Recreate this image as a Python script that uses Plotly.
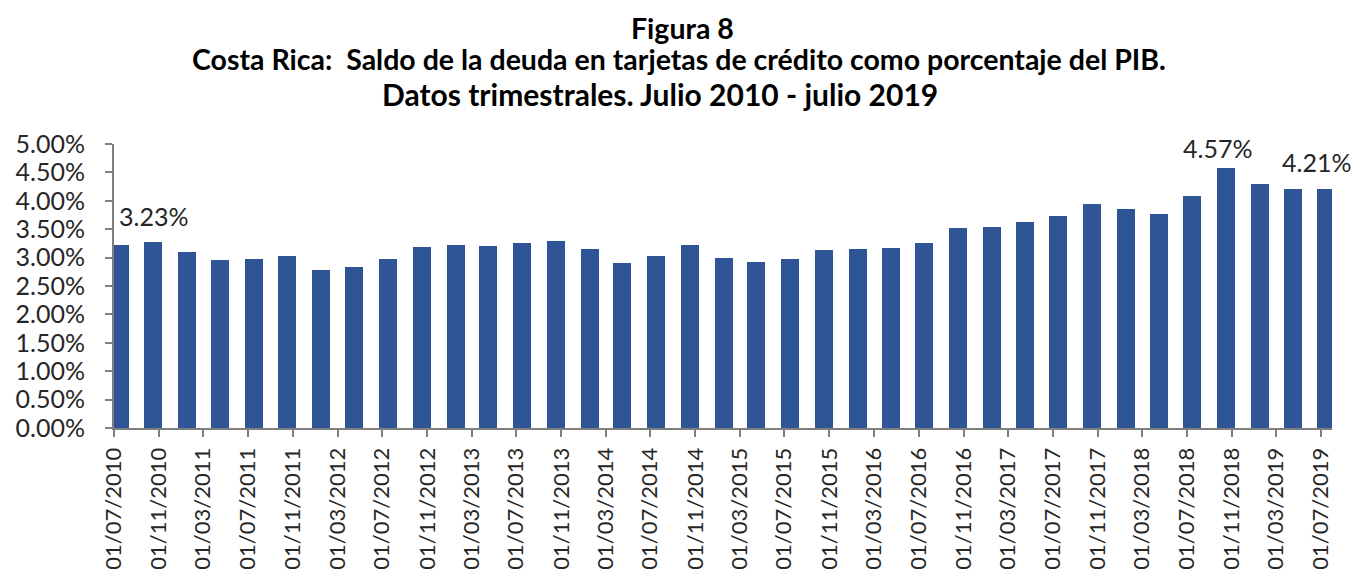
"""
Figura 8: saldo de la deuda en tarjetas de crédito como % del PIB (Costa Rica).
Barras trimestrales julio 2010 - julio 2019.
"""
import plotly.graph_objects as go

# la página tiene 8 px de margen en el body: la figura se dibuja desde (8, 8)
OFFSET = 8
FIG_W, FIG_H = 1364 - OFFSET, 572 - OFFSET
BAR_COLOR = "#2F5597"
TEXT_COLOR = "#262626"
AXIS_COLOR = "#7F7F7F"
FONT = "Lato"

# trimestres (primer día del mes)
fechas = [
    "2010-07-01", "2010-10-01", "2011-01-01", "2011-04-01", "2011-07-01", "2011-10-01",
    "2012-01-01", "2012-04-01", "2012-07-01", "2012-10-01", "2013-01-01", "2013-04-01",
    "2013-07-01", "2013-10-01", "2014-01-01", "2014-04-01", "2014-07-01", "2014-10-01",
    "2015-01-01", "2015-04-01", "2015-07-01", "2015-10-01", "2016-01-01", "2016-04-01",
    "2016-07-01", "2016-10-01", "2017-01-01", "2017-04-01", "2017-07-01", "2017-10-01",
    "2018-01-01", "2018-04-01", "2018-07-01", "2018-10-01", "2019-01-01", "2019-04-01",
    "2019-07-01",
]
# saldo / PIB, en %
saldo_pib = [
    3.23, 3.27, 3.10, 2.95, 2.98, 3.03, 2.79, 2.83, 2.98, 3.18, 3.22, 3.20,
    3.25, 3.30, 3.15, 2.90, 3.03, 3.23, 3.00, 2.93, 2.98, 3.13, 3.15, 3.17,
    3.25, 3.52, 3.54, 3.62, 3.74, 3.94, 3.86, 3.77, 4.09, 4.57, 4.30, 4.20,
    4.21,
]
# barras con etiqueta de dato
etiquetados = [0, 33, 36]

titulo = [
    "Figura 8",
    "Costa Rica:  Saldo de la deuda en tarjetas de crédito como porcentaje del PIB.",
    "Datos trimestrales. Julio 2010 - julio 2019",
]

# márgenes en coordenadas de la figura (pantalla - OFFSET)
MARGIN = dict(l=114 - OFFSET, r=32, t=144 - OFFSET, b=144)
PLOT_W = FIG_W - MARGIN["l"] - MARGIN["r"]
PLOT_H = FIG_H - MARGIN["t"] - MARGIN["b"]


def screen_to_paper(xpx, ypx):
    x = (xpx - OFFSET - MARGIN["l"]) / PLOT_W
    y = (FIG_H - MARGIN["b"] - (ypx - OFFSET)) / PLOT_H
    return x, y


fig = go.Figure(go.Bar(
    x=fechas, y=saldo_pib,
    xperiod="M1", xperiodalignment="middle",
    width=49 * 24 * 3600 * 1000,
    marker=dict(color=BAR_COLOR, line_width=0),
    showlegend=False, hoverinfo="x+y",
))

# etiquetas de datos
for i, (ys, anchor, xs) in zip(etiquetados, [(29, "left", 3), (20, "center", -3), (27, "center", -4)]):
    fig.add_annotation(
        x=fechas[i], y=saldo_pib[i], text=f"{saldo_pib[i]:.2f}%",
        showarrow=False, yshift=ys, yanchor="middle",
        xanchor=anchor, xshift=xs,
        font=dict(family=FONT, size=25, color=TEXT_COLOR),
    )

# título en tres líneas
for txt, (cx, cy), size in zip(titulo, [(682, 28), (679, 59), (660, 94)], [28.5, 28.5, 30]):
    px, py = screen_to_paper(cx, cy)
    fig.add_annotation(
        xref="paper", yref="paper", x=px, y=py,
        text=f"<b>{txt}</b>", showarrow=False,
        xanchor="center", yanchor="middle",
        font=dict(family=FONT, size=size, color="#000000"),
    )

fig.update_xaxes(
    type="date", range=["2010-07-01", "2019-08-01"], automargin=False,
    tick0="2010-07-01", dtick="M4", tickformat="%d/%m/%Y", tickangle=-90,
    ticks="outside", ticklen=7, tickwidth=2, tickcolor=AXIS_COLOR,
    showline=True, linecolor=AXIS_COLOR, linewidth=2,
    showgrid=False, zeroline=False, ticklabelstandoff=2,
    tickfont=dict(family=FONT, size=22, color=TEXT_COLOR),
)
fig.update_yaxes(
    range=[0, 5], dtick=0.5, tickformat=".2f", ticksuffix="%", automargin=False,
    ticks="outside", ticklen=7, tickwidth=2, tickcolor=AXIS_COLOR,
    showline=True, linecolor=AXIS_COLOR, linewidth=2,
    showgrid=False, zeroline=False, ticklabelstandoff=15,
    tickfont=dict(family=FONT, size=25, color=TEXT_COLOR),
)
fig.update_layout(
    width=FIG_W, height=FIG_H, margin=MARGIN,
    paper_bgcolor="white", plot_bgcolor="white",
    bargap=0,
)

fig.write_html("out.html")
